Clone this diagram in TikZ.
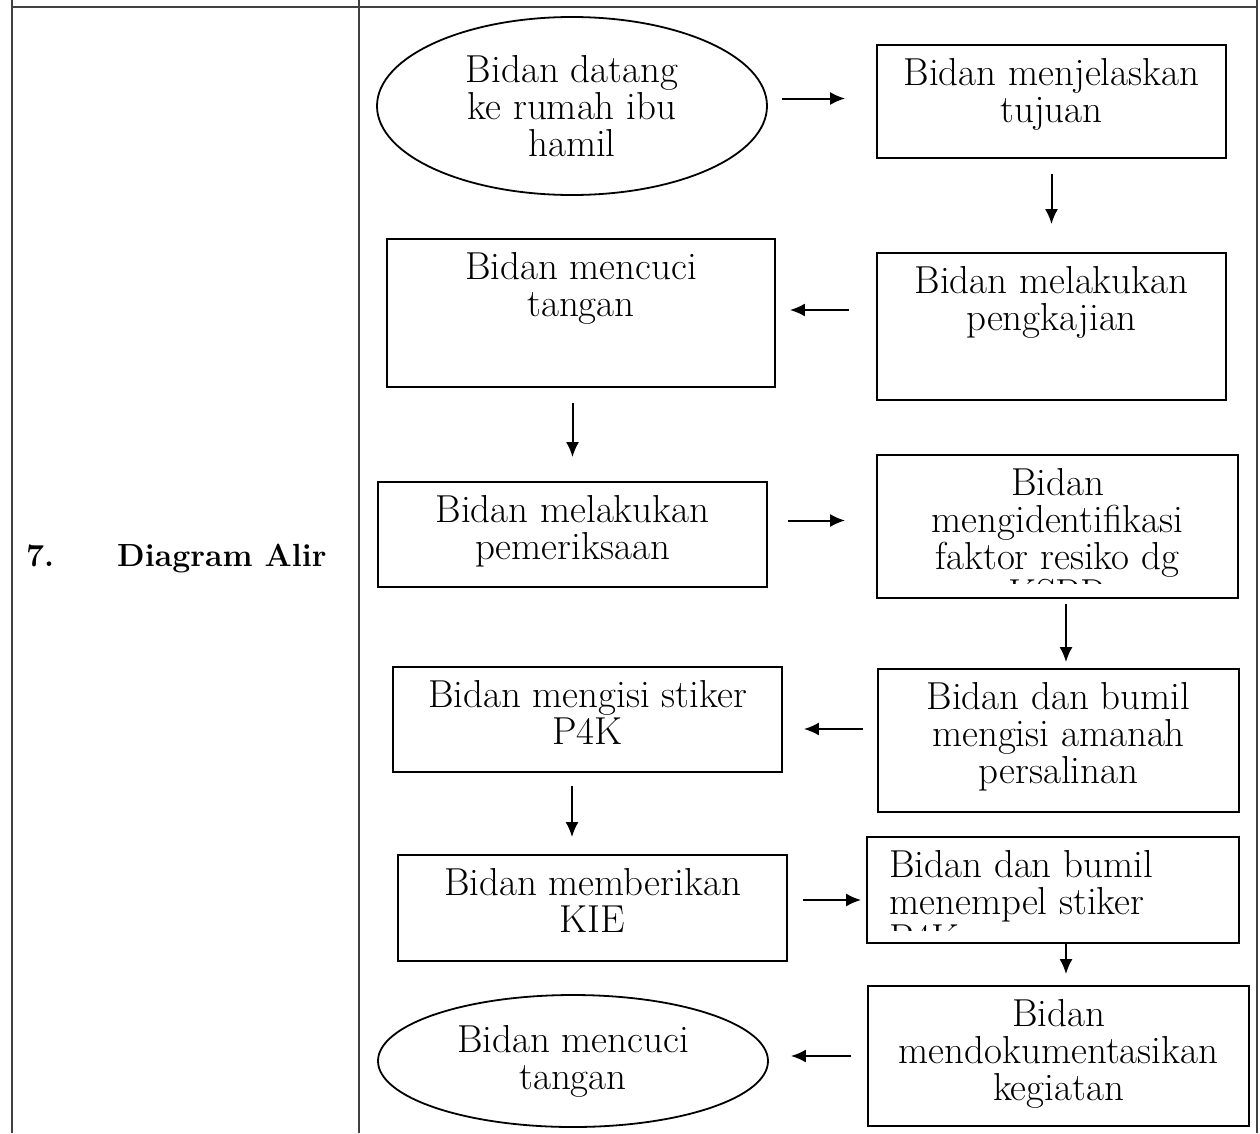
\documentclass[tikz,border=0pt]{standalone}
\usepackage{tikz}
\usetikzlibrary{positioning, shapes.geometric, arrows.meta}

\begin{document}
\begin{tikzpicture}[
        x=1pt, y=-1pt,
        terminal/.style={ellipse, draw, line width=1.8pt, inner sep=0pt, align=center, font=\fontsize{39}{37}\selectfont},
        process/.style={rectangle, draw, line width=1.8pt, inner sep=0pt},
        desc/.style={align=center, inner sep=0pt, font=\fontsize{39}{37}\selectfont},
        heading/.style={anchor=base west, inner sep=0pt, font=\bfseries\fontsize{32}{36}\selectfont},
        connection/.style={-{Latex[length=15pt, width=13pt]}, line width=2pt},
        frame/.style={line width=1.4pt, black!75}
    ]
    \useasboundingbox (0,0) rectangle (1260,1133);

    % Table frame
    \draw[frame] (12,0) -- (12,1133);
    \draw[frame] (359,0) -- (359,1133);
    \draw[frame] (1257,0) -- (1257,1133);
    \draw[frame] (12,7) -- (1257,7);

    \node[heading] (num) at (26,566) {7.};
    \node[heading] (title) at (117,566) {Diagram Alir};

    % Flow steps
    \node[terminal, minimum width=390pt, minimum height=178pt] (e1) at (572,106) {Bidan datang\\ke rumah ibu\\hamil};

    \node[process, minimum width=349pt, minimum height=113pt] (b1) at (1051.5,101.5) {};
    \node[desc, below=14pt of b1.north] (b1t) {Bidan menjelaskan\\tujuan};

    \node[process, minimum width=349pt, minimum height=147pt] (b2) at (1051.5,326.5) {};
    \node[desc, below=14pt of b2.north] (b2t) {Bidan melakukan\\pengkajian};

    \node[process, minimum width=388pt, minimum height=148pt] (b3) at (581,313) {};
    \node[desc, below=14pt of b3.north] (b3t) {Bidan mencuci\\tangan};

    \node[process, minimum width=389pt, minimum height=105pt] (b4) at (572.5,534.5) {};
    \node[desc, below=14pt of b4.north] (b4t) {Bidan melakukan\\pemeriksaan};

    \node[process, minimum width=361pt, minimum height=143pt] (b5) at (1057.5,526.5) {};
    \begin{scope}
        \clip (b5.north west) rectangle ([yshift=15pt]b5.south east);
        \node[desc, below=14pt of b5.north] (b5t) {Bidan\\mengidentifikasi\\faktor resiko dg\\KSPR};
    \end{scope}

    \node[process, minimum width=361pt, minimum height=143pt] (b6) at (1058.5,740.5) {};
    \node[desc, below=14pt of b6.north] (b6t) {Bidan dan bumil\\mengisi amanah\\persalinan};

    \node[process, minimum width=389pt, minimum height=105pt] (b7) at (587.5,719.5) {};
    \node[desc, below=14pt of b7.north] (b7t) {Bidan mengisi stiker\\P4K};

    \node[process, minimum width=389pt, minimum height=106pt] (b8) at (592.5,908) {};
    \node[desc, below=14pt of b8.north] (b8t) {Bidan memberikan\\KIE};

    \node[process, minimum width=372pt, minimum height=106pt] (b9) at (1053,890) {};
    \begin{scope}
        \clip (b9.north west) rectangle ([yshift=13pt]b9.south east);
        \node[desc, align=left, below right=14pt and 23pt of b9.north west] (b9t) {Bidan dan bumil\\menempel stiker\\P4K};
    \end{scope}

    \node[process, minimum width=381pt, minimum height=140pt] (b10) at (1058.5,1056) {};
    \node[desc, below=14pt of b10.north] (b10t) {Bidan\\mendokumentasikan\\kegiatan};

    \node[terminal, minimum width=390pt, minimum height=132pt] (e2) at (573,1061) {Bidan mencuci\\tangan};

    % Connections
    \draw[connection, shorten <=14pt, shorten >=31pt] ([yshift=3pt]e1.east |- b1.west) -- ([yshift=3pt]b1.west);
    \draw[connection, shorten <=15pt, shorten >=28pt] (b1.south) -- (b1.south |- b2.north);
    \draw[connection, shorten <=27pt, shorten >=14pt] ([yshift=3pt]b2.west |- b3.east) -- ([yshift=3pt]b3.east);
    \draw[connection, shorten <=15pt, shorten >=24pt] (b4.north |- b3.south) -- (b4.north);
    \draw[connection, shorten <=20pt, shorten >=31pt] ([yshift=14pt]b4.east) -- ([yshift=14pt]b4.east -| b5.west);
    \draw[connection, shorten <=5pt, shorten >=6pt] ([xshift=8.5pt]b5.south) -- ([xshift=8.5pt]b5.south |- b6.north);
    \draw[connection, shorten <=14pt, shorten >=21pt] ([yshift=11.5pt]b6.west) -- ([yshift=11.5pt]b6.west -| b7.east);
    \draw[connection, shorten <=13pt, shorten >=17pt] ([xshift=-15.5pt]b7.south) -- ([xshift=-15.5pt]b7.south |- b8.north);
    \draw[connection, shorten <=15pt, shorten >=5pt] ([yshift=8pt]b8.east) -- ([yshift=8pt]b8.east -| b9.west);
    \draw[connection, shorten >=11pt] ([xshift=13pt]b9.south) -- ([xshift=13pt]b9.south |- b10.north);
    \draw[connection, shorten <=16pt, shorten >=22pt] (b10.west) -- (b10.west -| e2.east);

\end{tikzpicture}
\end{document}
